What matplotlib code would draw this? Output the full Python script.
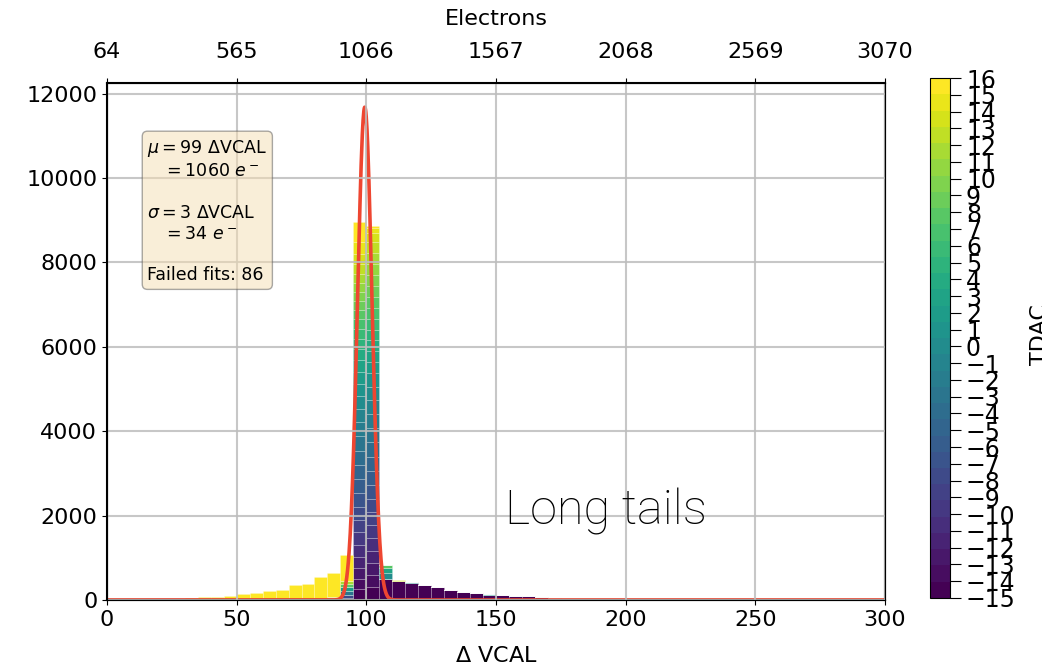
import numpy as np
import matplotlib
matplotlib.use("Agg")
import matplotlib.pyplot as plt
from matplotlib.colors import ListedColormap, Normalize
from matplotlib.cm import ScalarMappable

# TDAC values and histogram bins (Delta VCAL)
tdac = np.arange(-15, 17)
bin_edges = np.arange(0, 305, 5)

# counts of the two peak bins (95-100, 100-105), one value per TDAC (-15 .. 16)
peak_95 = [250, 250, 260, 270, 280, 290, 300, 310, 320, 330, 340, 340, 340, 330, 320, 310,
           290, 280, 270, 260, 250, 240, 230, 220, 210, 210, 210, 220, 230, 250, 280, 465]
peak_100 = [300, 290, 290, 290, 300, 300, 310, 320, 330, 330, 340, 340, 340, 330, 320, 310,
            330, 260, 260, 260, 260, 260, 260, 260, 260, 260, 260, 260, 260, 200, 120, 60]

# low tail (TDAC 16) for bins 0..90, high tail (TDAC -15) for bins 105..295
low_tail_16 = [3, 4, 6, 10, 15, 25, 45, 60, 75, 100, 135, 160, 215, 230, 355, 390, 530, 570, 610]
high_tail_m15 = [500, 450, 410, 345, 300, 232, 185, 160, 125, 110,
                 100, 90, 70, 40, 18, 12, 9, 7, 5, 4,
                 3, 3, 2, 2, 2, 1, 1, 1, 1, 1,
                 1, 1, 1, 1, 0, 0, 0, 0, 0]

# small contributions from other TDAC values
extra_tdac = [12, 8, 2, -3, -8, -12, 5, -5, -5, 0, 3, 8, 14, 0, 6, 10, -2, 2, 1]
extra_bin = [90, 90, 90, 90, 90, 90, 85, 85, 80, 105, 105, 105, 110, 115, 120, 125, 130, 145, 170]
extra_count = [60, 80, 100, 100, 60, 50, 40, 40, 25, 150, 100, 70, 25, 20, 15, 10, 8, 10, 12]

# gaussian fit
fit_amp, fit_mu, fit_sigma = 11680, 99.4, 2.8

vcal_ticks = [0, 50, 100, 150, 200, 250, 300]
electron_labels = ['64', '565', '1066', '1567', '2068', '2569', '3070']
box_text = (r'$\mu = 99\ \Delta$VCAL' + '\n' + r'   $= 1060\ e^-$' + '\n\n'
            + r'$\sigma = 3\ \Delta$VCAL' + '\n' + r'   $= 34\ e^-$' + '\n\n'
            + 'Failed fits: 86')

# build count matrix (TDAC x bin)
nbins = len(bin_edges) - 1
counts = np.zeros((len(tdac), nbins))
i95 = list(bin_edges).index(95)
counts[:, i95] = peak_95
counts[:, i95 + 1] = peak_100
counts[-1, :len(low_tail_16)] = low_tail_16
i105 = list(bin_edges).index(105)
counts[0, i105:i105 + len(high_tail_m15)] = high_tail_m15
for t, b, c in zip(extra_tdac, extra_bin, extra_count):
    counts[list(tdac).index(t), list(bin_edges).index(b)] += c

centers = (bin_edges[:-1] + bin_edges[1:]) / 2
colors = plt.cm.viridis(np.linspace(0, 1, len(tdac)))

plt.rcParams['font.size'] = 16

fig = plt.figure(figsize=(10.42, 6.7), dpi=100)
ax = fig.add_axes([0.1027, 0.1045, 0.7466, 0.7715])

ax.hist([centers] * len(tdac), bins=bin_edges, weights=list(counts), stacked=True,
        color=colors, edgecolor=(1, 1, 1, 0.22), linewidth=0.6)

xs = np.linspace(0, 300, 2000)
ax.plot(xs, fit_amp * np.exp(-0.5 * ((xs - fit_mu) / fit_sigma) ** 2),
        color='#ee4631', lw=2.6)

ax.set_xlim(0, 300)
ax.set_ylim(0, 12250)
ax.set_xticks(vcal_ticks)
ax.set_yticks(np.arange(0, 12001, 2000))
ax.grid(True, color='#bdbdbd', lw=1.5, alpha=0.85)
ax.set_axisbelow(False)
ax.set_xlabel(r'$\Delta$ VCAL', labelpad=12)
for s in ax.spines.values():
    s.set_linewidth(1.5)

ax2 = ax.twiny()
ax2.set_xlim(ax.get_xlim())
ax2.set_xticks(vcal_ticks)
ax2.set_xticklabels(electron_labels)
ax2.tick_params(axis='x', pad=12)
ax2.set_xlabel('Electrons', labelpad=12)

ax.text(0.052, 0.893, box_text, transform=ax.transAxes, va='top', ha='left',
        fontsize=12.5, linespacing=1.2,
        bbox=dict(boxstyle='round', facecolor='wheat', alpha=0.5, edgecolor='#555555'))

ax.text(192.5, 2090, 'Long tails', fontsize=35, ha='center', va='center',
        family='Roboto', fontweight='light')

# colorbar
cax = fig.add_axes([0.8925, 0.1075, 0.0192, 0.776])
sm = ScalarMappable(norm=Normalize(-15, 16), cmap=ListedColormap(colors))
cbar = fig.colorbar(sm, cax=cax, ticks=tdac)
cbar.ax.tick_params(labelsize=17, length=8)
fig.text(0.998, 0.5, 'TDAC', rotation=90, ha='center', va='center', fontsize=16)

fig.savefig('out.png', dpi=100)
